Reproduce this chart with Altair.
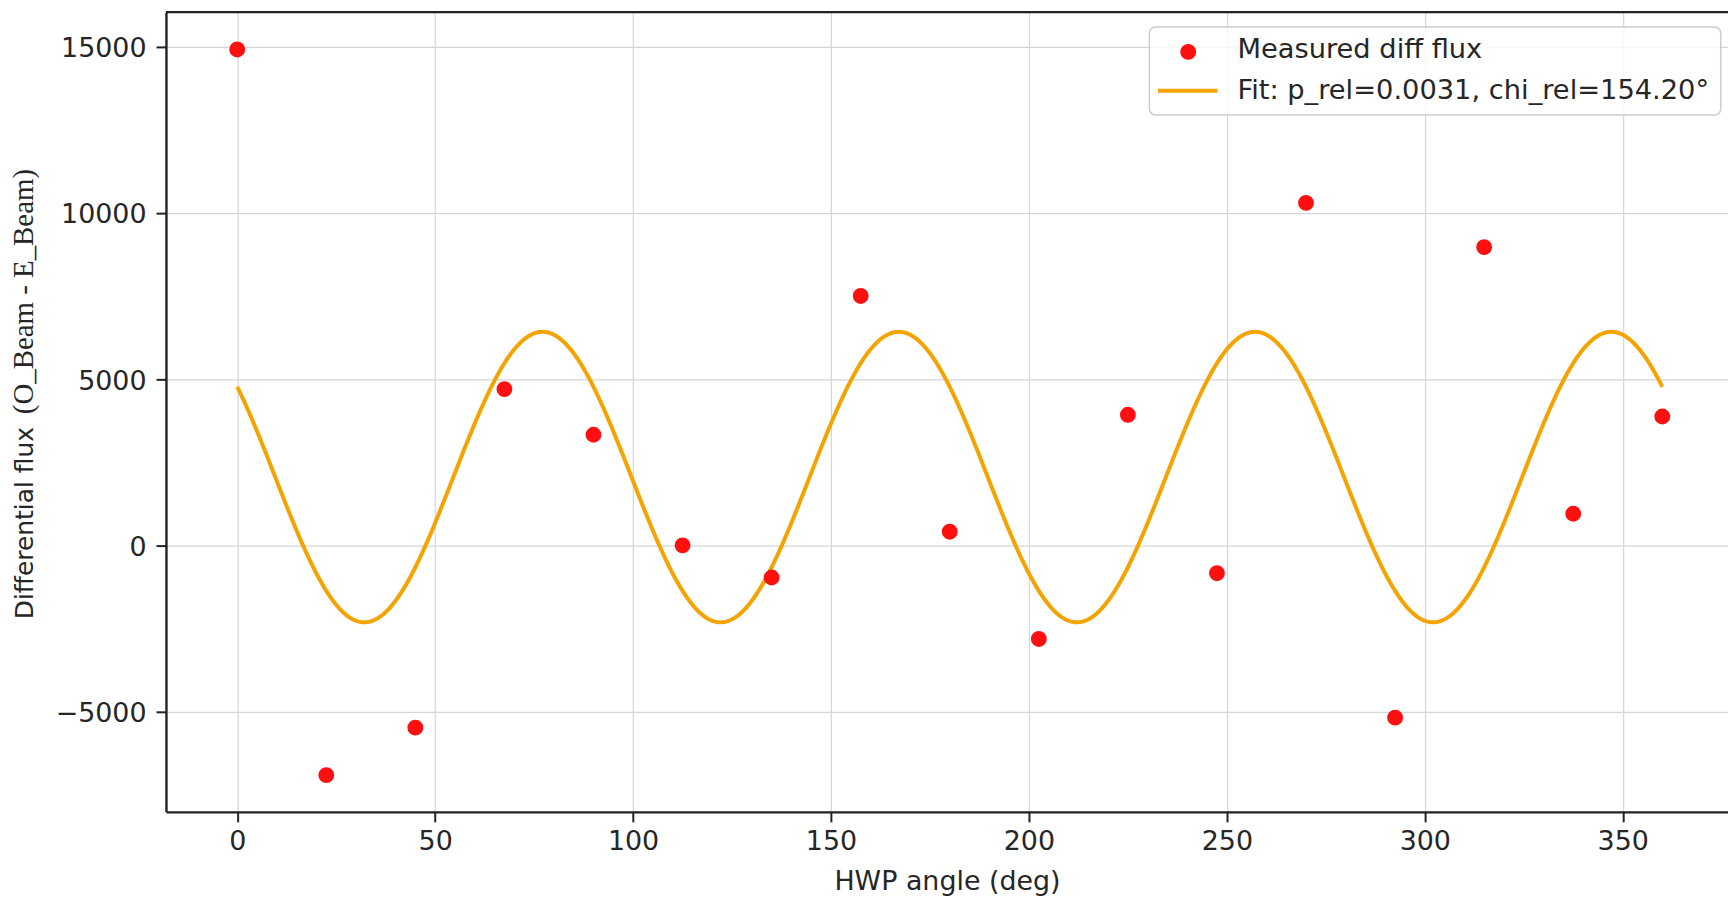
import altair as alt
import pandas as pd

# ---- data ----
angles = [0, 22.5, 45, 67.5, 90, 112.5, 135, 157.5, 180, 202.5, 225, 247.5,
          270, 292.5, 315, 337.5, 360]
diff_flux = [14920, -6915, -5486, 4700, 3327, 0, -968, 7503, 410, -2818, 3927,
             -839, 10303, -5186, 8972, 950, 3876]

# fitted model parameters (curve = offset + amplitude*cos(4*theta - 2*chi))
fit_offset = 2054
fit_amplitude = 4370
chi_rel = 154.20

x_ticks = [0, 50, 100, 150, 200, 250, 300, 350]
y_ticks = [-5000, 0, 5000, 10000, 15000]
legend_labels = ["Measured diff flux", "Fit: p_rel=0.0031, chi_rel=154.20\u00b0"]
x_title = "HWP angle (deg)"
y_title_parts = ["Differential flux", "(O_Beam - E_Beam)"]

RED = "#ff1010"
ORANGE = "#f5a300"
TXT = "#262626"
FONT = "DejaVu Sans"

W = 1569.3
H = 803.5
x_domain = [-18, 376.6]
y_domain = [-8020, 16045]

df = pd.DataFrame({"angle": angles, "flux": diff_flux})
one = pd.DataFrame({"k": [0]})

x_axis = alt.Axis(values=x_ticks, title=x_title, titleFont=FONT, titleFontSize=27,
                  titleFontWeight="normal", titleColor=TXT, titleY=78,
                  titleBaseline="alphabetic", labelFont=FONT, labelFontSize=27,
                  labelColor=TXT, labelPadding=7, tickSize=10, tickWidth=2,
                  tickColor="#222222", domain=True, domainColor="#222222",
                  domainWidth=2.4, grid=True, gridColor="#d6d6d6", gridWidth=1.2,
                  labelFlush=False)
y_axis = alt.Axis(values=y_ticks, title=None, format="d", labelFont=FONT,
                  labelFontSize=27, labelColor=TXT, labelPadding=10, labelOffset=2,
                  tickSize=10, tickWidth=2, tickColor="#222222", domain=True,
                  domainColor="#222222", domainWidth=2.4, grid=True,
                  gridColor="#d6d6d6", gridWidth=1.2, labelFlush=False)

x_enc = alt.X("angle:Q", scale=alt.Scale(domain=x_domain, nice=False, zero=False),
              axis=x_axis)
y_enc = alt.Y("flux:Q", scale=alt.Scale(domain=y_domain, nice=False, zero=False),
              axis=y_axis)

curve = (
    alt.Chart(alt.sequence(0, 360.25, 0.25, as_="angle"))
    .transform_calculate(
        flux=f"{fit_offset} + {fit_amplitude}*cos((4*datum.angle - 2*{chi_rel})*PI/180)"
    )
    .mark_line(color=ORANGE, strokeWidth=4)
    .encode(x=x_enc, y=y_enc)
)

points = (
    alt.Chart(df)
    .mark_circle(size=254, color=RED, opacity=1)
    .encode(x=x_enc, y=y_enc)
)

top_frame = alt.Chart(one).mark_rule(color="#222222", strokeWidth=2.4).encode(
    x=alt.value(0), x2=alt.value(W), y=alt.value(0))

legend_box = alt.Chart(one).mark_rect(
    fill="white", fillOpacity=0.8, stroke="#cccccc", strokeWidth=1.5, cornerRadius=6
).encode(x=alt.value(988), x2=alt.value(1562), y=alt.value(15), y2=alt.value(103.3))

legend_dot = alt.Chart(one).mark_circle(size=254, color=RED, opacity=1).encode(
    x=alt.value(1027), y=alt.value(40))
legend_line = alt.Chart(one).mark_rule(color=ORANGE, strokeWidth=4).encode(
    x=alt.value(996.5), x2=alt.value(1056.5), y=alt.value(79))
legend_t1 = alt.Chart(one).mark_text(
    text=legend_labels[0], align="left", baseline="middle", font=FONT,
    fontSize=27.4, color=TXT).encode(x=alt.value(1076.5), y=alt.value(38))
legend_t2 = alt.Chart(one).mark_text(
    text=legend_labels[1], align="left", baseline="middle", font=FONT,
    fontSize=27.4, color=TXT).encode(x=alt.value(1076.5), y=alt.value(79))

ytitle_sans = alt.Chart(one).mark_text(
    text=y_title_parts[0], angle=270, align="left", baseline="alphabetic",
    font=FONT, fontSize=25, color=TXT).encode(x=alt.value(-133.2), y=alt.value(610))
ytitle_serif = alt.Chart(one).mark_text(
    text=y_title_parts[1], angle=270, align="left", baseline="alphabetic",
    font="Liberation Serif", fontSize=29, color=TXT).encode(
    x=alt.value(-133.2), y=alt.value(404))

chart = (
    alt.layer(curve, points, top_frame, legend_box, legend_dot, legend_line,
              legend_t1, legend_t2, ytitle_sans, ytitle_serif)
    .properties(
        width=W, height=H,
        autosize=alt.AutoSizeParams(type="none"),
        padding={"left": 158.7, "top": 2, "right": 0, "bottom": 95},
        background="white",
    )
    .configure_view(stroke=None)
)

chart.save("out.html", embed_options={"renderer": "svg", "actions": False})
